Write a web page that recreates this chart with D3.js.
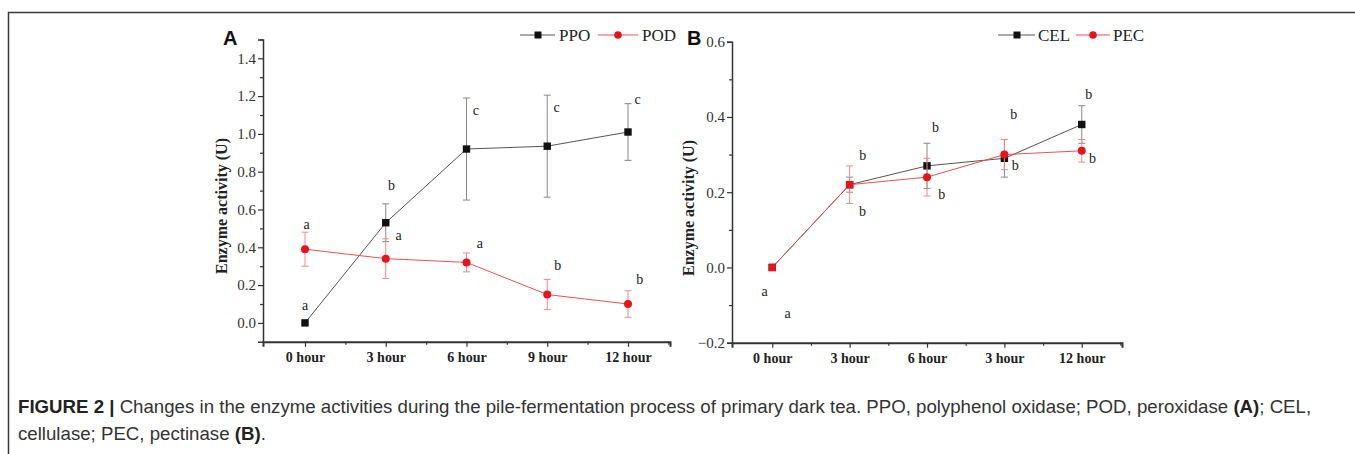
<!DOCTYPE html>
<html><head><meta charset="utf-8">
<script src="https://cdn.jsdelivr.net/npm/d3@7/dist/d3.min.js"></script>
<style>
html,body{margin:0;padding:0;background:#fff;}
svg{display:block;}
</style></head>
<body>
<svg id="chart" width="1355" height="454"></svg>
<script>
// ---------- data ----------
const categoriesA = ["0 hour","3 hour","6 hour","9 hour","12 hour"];
const categoriesB = ["0 hour","3 hour","6 hour","3 hour","12 hour"];
const ppo = [0.0, 0.53, 0.92, 0.935, 1.01];
const ppoErr = [0, 0.10, 0.27, 0.27, 0.15];
const pod = [0.39, 0.34, 0.32, 0.15, 0.10];
const podErr = [0.09, 0.105, 0.05, 0.08, 0.07];
const cel = [0.0, 0.22, 0.27, 0.29, 0.38];
const celErr = [0, 0.02, 0.06, 0.05, 0.05];
const pec = [0.0, 0.22, 0.24, 0.30, 0.31];
const pecErr = [0, 0.05, 0.05, 0.04, 0.03];
const yTicksA = [0.0,0.2,0.4,0.6,0.8,1.0,1.2,1.4];
const yTicksB = [-0.2,0.0,0.2,0.4,0.6];
// significance letters: text, value where placed, index offset
const ppoLetters = ["a","b","c","c","c"];
const ppoLetterY = [0.088, 0.725, 1.12, 1.137, 1.18];
const ppoLetterDx = [0.0, 0.07, 0.115, 0.115, 0.12];
const podLetters = ["a","a","a","b","b"];
const podLetterY = [0.52, 0.46, 0.42, 0.30, 0.23];
const podLetterDx = [0.02, 0.16, 0.165, 0.13, 0.145];
const celLetters = ["a","b","b","b","b"];
const celLetterY = [-0.064, 0.147, 0.371, 0.269, 0.46];
const celLetterDx = [-0.1, 0.165, 0.11, 0.14, 0.09];
const pecLetters = ["a","b","b","b","b"];
const pecLetterY = [-0.123, 0.296, 0.193, 0.406, 0.29];
const pecLetterDx = [0.2, 0.17, 0.19, 0.12, 0.14];

// ---------- drawing ----------
const svg = d3.select("#chart");
const serif = "'Liberation Serif','Times New Roman',serif";
const sans = "'Liberation Sans',Arial,Helvetica,sans-serif";
const axisCol = "#333";
const blk = "#111", blkLine = "#555", blkErr = "#888";
const red = "#e8141c", redLine = "#ee5050", redErr = "#f08a8a";

// frame
svg.append("rect").attr("x",8.5).attr("y",12.5).attr("width",1400).attr("height",500)
  .attr("fill","none").attr("stroke","#3a3a3a").attr("stroke-width",1.5);

function panel(o){
  const g = svg.append("g");
  const x = d3.scaleLinear().domain([-0.52,4.52]).range(o.xr);
  const y = d3.scaleLinear().domain(o.yd).range(o.yr);
  // y axis
  const ya = g.append("g").attr("transform",`translate(${o.xr[0]},0)`)
    .call(d3.axisLeft(y).tickValues(o.yticks).tickSize(5).tickPadding(2).tickFormat(d3.format(".1f")));
  ya.select(".domain").attr("stroke",axisCol).attr("stroke-width",1.5);
  ya.selectAll(".tick line").attr("stroke",axisCol).attr("stroke-width",1.2);
  ya.selectAll("text").attr("font-family",serif).attr("font-size",15).attr("fill","#333");
  const ym = g.append("g").attr("transform",`translate(${o.xr[0]},0)`)
    .call(d3.axisLeft(y).tickValues(o.yminor).tickSize(3).tickFormat(""));
  ym.select(".domain").remove();
  ym.selectAll(".tick line").attr("stroke",axisCol).attr("stroke-width",1.2);
  // x axis
  const xa = g.append("g").attr("transform",`translate(0,${o.yr[0]})`)
    .call(d3.axisBottom(x).tickValues([0,1,2,3,4]).tickSize(5).tickPadding(5).tickFormat(i=>o.cats[i]));
  xa.select(".domain").attr("stroke",axisCol).attr("stroke-width",2);
  xa.selectAll(".tick line").attr("stroke",axisCol).attr("stroke-width",1.2);
  xa.selectAll("text").attr("font-family",serif).attr("font-size",14).attr("font-weight","bold").attr("fill","#222");
  const xm = g.append("g").attr("transform",`translate(0,${o.yr[0]})`)
    .call(d3.axisBottom(x).tickValues([0.5,1.5,2.5,3.5,4.5]).tickSize(3).tickFormat(""));
  xm.select(".domain").remove();
  xm.selectAll(".tick line").attr("stroke",axisCol).attr("stroke-width",1.2);
  // y label
  g.append("text").attr("transform",`translate(${o.ylabX},${o.ylabY}) rotate(-90)`)
    .attr("text-anchor","middle").attr("dominant-baseline","central")
    .attr("font-family",serif).attr("font-size",16).attr("font-weight","bold").attr("fill","#222")
    .text("Enzyme activity (U)");
  // panel letter
  g.append("text").attr("x",o.letter[1]).attr("y",o.letter[2]).attr("font-family",sans)
    .attr("font-size",20).attr("font-weight","bold").attr("fill","#111").text(o.letter[0]);

  const idx = [0,1,2,3,4];
  function series(vals, errs, lineCol, errCol, markCol, shape, overlapWith){
    const eg = g.append("g");
    idx.forEach(i=>{
      if(errs[i] <= 0) return;
      const cx = x(i), y1 = y(vals[i]+errs[i]), y2 = y(vals[i]-errs[i]);
      eg.append("line").attr("x1",cx).attr("x2",cx).attr("y1",y1).attr("y2",y2).attr("stroke",errCol).attr("stroke-width",1);
      [y1,y2].forEach(yy=>eg.append("line").attr("x1",cx-3.5).attr("x2",cx+3.5).attr("y1",yy).attr("y2",yy).attr("stroke",errCol).attr("stroke-width",1));
    });
    g.append("path").datum(idx).attr("fill","none").attr("stroke",lineCol).attr("stroke-width",1)
      .attr("d",d3.line().x(i=>x(i)).y(i=>y(vals[i])));
    idx.forEach(i=>{
      let s = shape;
      if(overlapWith && overlapWith[i]===vals[i]) s = "square";
      if(s==="square") g.append("rect").attr("x",x(i)-3.7).attr("y",y(vals[i])-3.7).attr("width",7.4).attr("height",7.4).attr("fill",markCol);
      else g.append("circle").attr("cx",x(i)).attr("cy",y(vals[i])).attr("r",4).attr("fill",markCol);
    });
  }
  function letters(txt, ly, ldx){
    idx.forEach(i=>{
      g.append("text").attr("x",x(i+ldx[i])).attr("y",y(ly[i])).attr("dy","0.3em").attr("text-anchor","middle")
        .attr("font-family",serif).attr("font-size",14).attr("fill","#222").text(txt[i]);
    });
  }
  o.draw(series, letters);
  // legend
  const L = o.legend;
  const lg = g.append("g");
  L.forEach(it=>{
    lg.append("line").attr("x1",it.x1).attr("x2",it.x2).attr("y1",L.y).attr("y2",L.y).attr("stroke",it.line).attr("stroke-width",1);
    if(it.shape==="square") lg.append("rect").attr("x",it.m-3.5).attr("y",L.y-3.5).attr("width",7).attr("height",7).attr("fill",it.col);
    else lg.append("circle").attr("cx",it.m).attr("cy",L.y).attr("r",3.8).attr("fill",it.col);
    lg.append("text").attr("x",it.tx).attr("y",L.y).attr("dy","0.35em").attr("font-family",serif).attr("font-size",17).attr("fill","#222").text(it.name);
  });
}

const legA = [
  {x1:520,x2:555,m:538,tx:559,name:"PPO",line:blkLine,col:blk,shape:"square"},
  {x1:598,x2:638,m:618,tx:642,name:"POD",line:redLine,col:red,shape:"circle"}];
legA.y = 35;
panel({xr:[263,670], yd:[-0.1,1.5], yr:[341.8,39.4], yticks:yTicksA,
  yminor:[0.1,0.3,0.5,0.7,0.9,1.1,1.3,1.5], cats:categoriesA, ylabX:221, ylabY:206,
  letter:["A",223,45], legend:legA,
  draw:(series,letters)=>{
    series(ppo, ppoErr, blkLine, blkErr, blk, "square");
    series(pod, podErr, redLine, redErr, red, "circle");
    letters(ppoLetters, ppoLetterY, ppoLetterDx);
    letters(podLetters, podLetterY, podLetterDx);
  }});

const legB = [
  {x1:998,x2:1035,m:1017,tx:1038,name:"CEL",line:blkLine,col:blk,shape:"square"},
  {x1:1076,x2:1110,m:1093,tx:1113,name:"PEC",line:redLine,col:red,shape:"circle"}];
legB.y = 35;
panel({xr:[732,1122], yd:[-0.2,0.6], yr:[342.7,41.7], yticks:yTicksB,
  yminor:[-0.1,0.1,0.3,0.5], cats:categoriesB, ylabX:688, ylabY:208,
  letter:["B",687,45], legend:legB,
  draw:(series,letters)=>{
    series(cel, celErr, blkLine, blkErr, blk, "square");
    series(pec, pecErr, redLine, redErr, red, "circle", cel);
    letters(celLetters, celLetterY, celLetterDx);
    letters(pecLetters, pecLetterY, pecLetterDx);
  }});

// caption
const cap = svg.append("g").attr("font-family",sans).attr("fill","#333");
const l1 = cap.append("text").attr("x",18).attr("y",413).attr("font-size",15);
l1.append("tspan").attr("font-weight","bold").attr("fill","#222").text("FIGURE 2 |");
l1.append("tspan").text(" Changes in the enzyme activities during the pile-fermentation process of primary dark tea. PPO, polyphenol oxidase; POD, peroxidase ");
l1.append("tspan").attr("font-weight","bold").attr("fill","#222").text("(A)");
l1.append("tspan").text("; CEL,");
const l2 = cap.append("text").attr("x",18).attr("y",440).attr("font-size",15);
l2.append("tspan").text("cellulase; PEC, pectinase ");
l2.append("tspan").attr("font-weight","bold").attr("fill","#222").text("(B)");
l2.append("tspan").text(".");
// fit caption width to reference (first line spans ~18..1312)
const w = l1.node().getComputedTextLength();
const fs = 15 * 1294 / w;
l1.attr("font-size",fs); l2.attr("font-size",fs);
</script>
</body></html>
